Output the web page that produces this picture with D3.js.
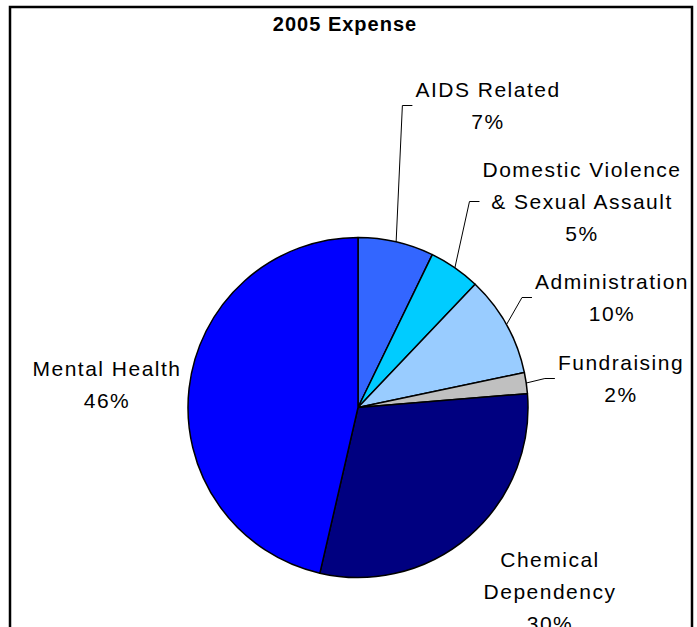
<!DOCTYPE html>
<html>
<head>
<meta charset="utf-8">
<title>2005 Expense</title>
<script src="https://cdn.jsdelivr.net/npm/d3@7"></script>
<style>
    html, body { margin: 0; padding: 0; background: #fff; }
    svg { display: block; }
    .chart-title { font: bold 20px "Liberation Sans", Arial, sans-serif; letter-spacing: 1px; }
    .slice-label { font: 21px "Liberation Sans", Arial, sans-serif; letter-spacing: 1.5px; fill: #000; }
    .leader { fill: none; stroke: #000; stroke-width: 1; }
</style>
</head>
<body>
<div id="chart"></div>
<script>
var title      = '2005 Expense';
var categories = ['AIDS Related', 'Domestic Violence\n& Sexual Assault', 'Administration',
                  'Fundraising', 'Chemical\nDependency', 'Mental Health'];
var values     = [7.2, 4.9, 9.6, 2.0, 29.9, 46.4];
var colors     = ['#3366ff', '#00ccff', '#99ccff', '#c0c0c0', '#000080', '#0000ff'];

(function (d3) {
    'use strict';

    var width  = 697,
        height = 627,
        cx     = 358,
        cy     = 407.5,
        radius = 170;

    // where each label block sits: centre x, first baseline, and whether it gets a leader line
    var labelLayout = [
        { x: 488, y: 97,  leader: true  },
        { x: 582, y: 177, leader: true  },
        { x: 612, y: 289, leader: true  },
        { x: 621, y: 370, leader: true  },
        { x: 550, y: 567, leader: false },
        { x: 107, y: 376, leader: false }
    ];
    var lineHeight = 32;

    var total = d3.sum(values),
        color = d3.scaleOrdinal().domain(categories).range(colors);

    var pie = d3.pie().sort(null).value(function (d) { return d.value; }),
        arc = d3.arc().innerRadius(0).outerRadius(radius);

    var slices = pie(categories.map(function (c, i) {
        return { name: c, value: values[i], layout: labelLayout[i] };
    }));

    var svg = d3.select('#chart').append('svg')
        .attr('width', width)
        .attr('height', height);

    // chart area frame (runs past the bottom of the picture)
    svg.append('rect')
        .attr('x', 10).attr('y', 7)
        .attr('width', 682).attr('height', 660)
        .attr('fill', '#fff')
        .attr('stroke', '#000')
        .attr('stroke-width', 2.5);

    svg.append('text')
        .attr('class', 'chart-title')
        .attr('x', 345).attr('y', 31)
        .attr('text-anchor', 'middle')
        .text(title);

    var g = svg.append('g').attr('transform', 'translate(' + cx + ',' + cy + ')');

    g.selectAll('path.slice').data(slices).enter().append('path')
        .attr('class', 'slice')
        .attr('d', arc)
        .attr('fill', function (d) { return color(d.data.name); })
        .attr('stroke', '#000')
        .attr('stroke-width', 1.5)
        .attr('stroke-linejoin', 'round');

    var labels = svg.selectAll('text.slice-label').data(slices).enter().append('text')
        .attr('class', 'slice-label')
        .attr('text-anchor', 'middle');

    labels.each(function (d) {
        var lines = d.data.name.split('\n');
        lines.push(Math.round(d.data.value / total * 100) + '%');
        d3.select(this).selectAll('tspan').data(lines).enter().append('tspan')
            .attr('x', d.data.layout.x)
            .attr('y', function (t, i) { return d.data.layout.y + i * lineHeight; })
            .text(String);
    });

    // leader lines: from the arc at the slice's mid angle to the left side of the label block
    labels.filter(function (d) { return d.data.layout.leader; }).each(function (d) {
        var box   = this.getBBox(),
            mid   = (d.startAngle + d.endAngle) / 2,
            start = [cx + radius * Math.sin(mid), cy - radius * Math.cos(mid)],
            end   = [box.x - 3, box.y + box.height / 2],
            elbow = [end[0] - 10, end[1]];

        svg.append('path')
            .attr('class', 'leader')
            .attr('d', d3.line()([start, elbow, end]));
    });
}(window.d3));
</script>
</body>
</html>
